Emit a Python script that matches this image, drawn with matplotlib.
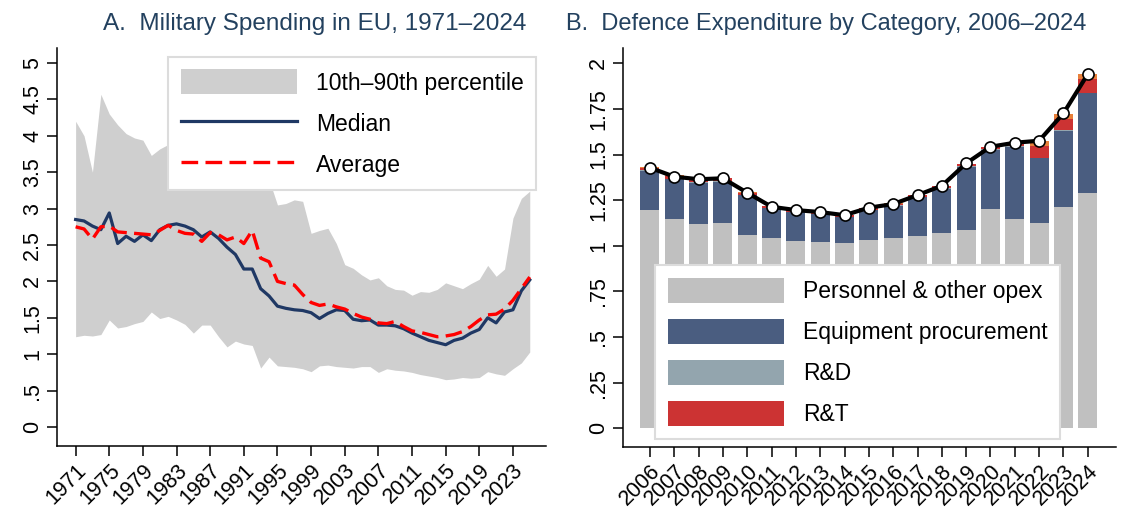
import matplotlib
matplotlib.use("Agg")
import matplotlib.pyplot as plt
import numpy as np

plt.rcParams['font.family'] = ['Liberation Sans', 'DejaVu Sans']

## Data - panel A (share of GDP, %)
years_a = list(range(1971, 2026))
median = [2.85, 2.83, 2.76, 2.71, 2.94, 2.52, 2.62, 2.55, 2.64, 2.56,
          2.71, 2.77, 2.79, 2.76, 2.71, 2.61, 2.68, 2.59, 2.47, 2.37,
          2.17, 2.17, 1.90, 1.80, 1.66, 1.63, 1.61, 1.60, 1.57, 1.49,
          1.56, 1.61, 1.60, 1.48, 1.46, 1.47, 1.40, 1.40, 1.39, 1.35,
          1.29, 1.24, 1.19, 1.16, 1.13, 1.19, 1.22, 1.29, 1.34, 1.50,
          1.43, 1.58, 1.61, 1.87, 2.02]
average = [2.75, 2.72, 2.58, 2.75, 2.76, 2.68, 2.67, 2.66, 2.65, 2.64,
           2.70, 2.77, 2.70, 2.66, 2.65, 2.55, 2.67, 2.64, 2.57, 2.61,
           2.52, 2.70, 2.32, 2.27, 2.00, 1.97, 1.95, 1.82, 1.71, 1.67,
           1.69, 1.65, 1.62, 1.56, 1.51, 1.48, 1.43, 1.42, 1.45, 1.38,
           1.32, 1.30, 1.27, 1.24, 1.25, 1.27, 1.31, 1.38, 1.47, 1.54,
           1.55, 1.62, 1.74, 1.90, 2.06]
p90 = [4.20, 4.00, 3.50, 4.57, 4.30, 4.15, 4.03, 3.97, 3.94, 3.73,
       3.82, 3.88, 3.95, 4.00, 3.95, 3.90, 3.85, 3.80, 3.70, 3.65,
       3.70, 3.55, 3.45, 3.40, 3.05, 3.07, 3.12, 3.10, 2.66, 2.70,
       2.73, 2.52, 2.23, 2.18, 2.09, 2.02, 2.05, 1.94, 1.89, 1.88,
       1.81, 1.86, 1.85, 1.89, 1.98, 1.94, 1.90, 1.97, 2.03, 2.22,
       2.07, 2.17, 2.87, 3.14, 3.24]
p10 = [1.24, 1.26, 1.25, 1.27, 1.47, 1.36, 1.38, 1.42, 1.45, 1.58,
       1.49, 1.52, 1.47, 1.41, 1.29, 1.40, 1.40, 1.24, 1.10, 1.18,
       1.14, 1.12, 0.81, 0.96, 0.84, 0.83, 0.82, 0.80, 0.76, 0.84,
       0.85, 0.83, 0.82, 0.81, 0.83, 0.83, 0.75, 0.80, 0.78, 0.77,
       0.75, 0.72, 0.70, 0.68, 0.65, 0.66, 0.68, 0.67, 0.68, 0.76,
       0.73, 0.71, 0.80, 0.88, 1.03]
ticks_a = list(range(1971, 2024, 4))
yticks_a = [0, .5, 1, 1.5, 2, 2.5, 3, 3.5, 4, 4.5, 5]
ylabels_a = ['0', '.5', '1', '1.5', '2', '2.5', '3', '3.5', '4', '4.5', '5']

## Data - panel B
years_b = list(range(2006, 2025))
personnel = [1.196, 1.147, 1.119, 1.127, 1.059, 1.043, 1.026, 1.022, 1.017, 1.032,
             1.041, 1.055, 1.068, 1.087, 1.202, 1.145, 1.127, 1.214, 1.288]
equipment = [0.214, 0.217, 0.227, 0.224, 0.218, 0.162, 0.158, 0.152, 0.139, 0.164,
             0.179, 0.211, 0.245, 0.346, 0.323, 0.398, 0.352, 0.415, 0.548]
rd = [0.003, 0.003, 0.003, 0.003, 0.003, 0.003, 0.003, 0.003, 0.003, 0.003,
      0.003, 0.003, 0.003, 0.003, 0.003, 0.003, 0.003, 0.003, 0.003]
rt = [0.016, 0.016, 0.014, 0.016, 0.010, 0.008, 0.008, 0.008, 0.008, 0.008,
      0.008, 0.009, 0.010, 0.012, 0.012, 0.012, 0.064, 0.062, 0.075]
other = [0.003, 0.003, 0.003, 0.003, 0.003, 0.003, 0.003, 0.003, 0.003, 0.003,
         0.003, 0.003, 0.003, 0.003, 0.003, 0.004, 0.027, 0.027, 0.028]
total = [1.428, 1.379, 1.365, 1.370, 1.291, 1.214, 1.196, 1.185, 1.168, 1.209,
         1.229, 1.278, 1.329, 1.452, 1.543, 1.565, 1.576, 1.726, 1.941]
yticks_b = [0, .25, .5, .75, 1, 1.25, 1.5, 1.75, 2]
ylabels_b = ['0', '.25', '.5', '.75', '1', '1.25', '1.5', '1.75', '2']

title_col = '#23415f'

fig = plt.figure(figsize=(11.3, 5.28), dpi=100)
axA = fig.add_axes([0.0504, 0.1553, 0.4327, 0.7538])
axB = fig.add_axes([0.5513, 0.1534, 0.4363, 0.7557])

def style(ax):
    for s in ['top', 'right']:
        ax.spines[s].set_visible(False)
    for s in ['left', 'bottom']:
        ax.spines[s].set_linewidth(1.1)
    ax.tick_params(length=7, width=1.1, labelsize=15.5, pad=3)
    ax.tick_params(axis='y', labelrotation=90)
    for lab in ax.get_yticklabels():
        lab.set_va('center')

## Panel A
axA.fill_between(years_a, p10, p90, color='#cfcfcf', lw=0, label='10th\u201390th percentile')
axA.plot(years_a, median, color='#1f3864', lw=2.3, label='Median')
axA.plot(years_a, average, color='#ff0000', lw=2.4, dashes=(5, 2.2), label='Average')
axA.set_xlim(1968.78, 2026.92)
axA.set_ylim(-0.261, 5.206)
axA.set_xticks(ticks_a)
axA.set_xticklabels([str(t) for t in ticks_a], rotation=45, ha='right', va='top',
                    rotation_mode='anchor')
axA.set_yticks(yticks_a)
axA.set_yticklabels(ylabels_a)
style(axA)
fig.text(315 / 1130, 1 - 24 / 528, 'A.  Military Spending in EU, 1971\u20132024', fontsize=17.5,
         color=title_col, ha='center', va='center')
legA = axA.legend(loc='upper right', bbox_to_anchor=(0.98, 0.978), fontsize=16.5,
                  frameon=True, fancybox=False, framealpha=1, handlelength=5.1, handleheight=1.3,
                  handletextpad=0.8, labelspacing=0.7, borderpad=0.55, borderaxespad=0)
legA.get_frame().set_edgecolor('#dcdcdc')
legA.get_frame().set_linewidth(1.5)

## Panel B
w = 0.78
b1 = np.array(personnel)
b2 = b1 + np.array(equipment)
b3 = b2 + np.array(rd)
b4 = b3 + np.array(rt)
axB.bar(years_b, personnel, width=w, color='#c0c0c0', label='Personnel & other opex')
axB.bar(years_b, equipment, bottom=b1, width=w, color='#4a5d80', label='Equipment procurement')
axB.bar(years_b, rd, bottom=b2, width=w, color='#93a5ae', label='R&D')
axB.bar(years_b, rt, bottom=b3, width=w, color='#cc3333', label='R&T')
axB.bar(years_b, other, bottom=b4, width=w, color='#e8803a')
axB.plot(years_b, total, color='black', lw=3, marker='o', ms=8, mfc='white', mec='black', mew=1.2)
axB.set_xlim(2004.89, 2025.16)
axB.set_ylim(-0.102, 2.084)
axB.set_xticks(years_b)
axB.set_xticklabels([str(t) for t in years_b], rotation=45, ha='right', va='top',
                    rotation_mode='anchor')
axB.set_yticks(yticks_b)
axB.set_yticklabels(ylabels_b)
style(axB)
fig.text(826 / 1130, 1 - 24 / 528, 'B.  Defence Expenditure by Category, 2006\u20132024', fontsize=17,
         color=title_col, ha='center', va='center')
legB = axB.legend(loc='lower left', bbox_to_anchor=(0.065, 0.02), fontsize=16.5,
                  frameon=True, fancybox=False, framealpha=1, handlelength=5.1, handleheight=1.3,
                  handletextpad=0.8, labelspacing=0.7, borderpad=0.55, borderaxespad=0)
legB.get_frame().set_edgecolor('#dcdcdc')
legB.get_frame().set_linewidth(1.5)

fig.savefig('out.png', dpi=100)
